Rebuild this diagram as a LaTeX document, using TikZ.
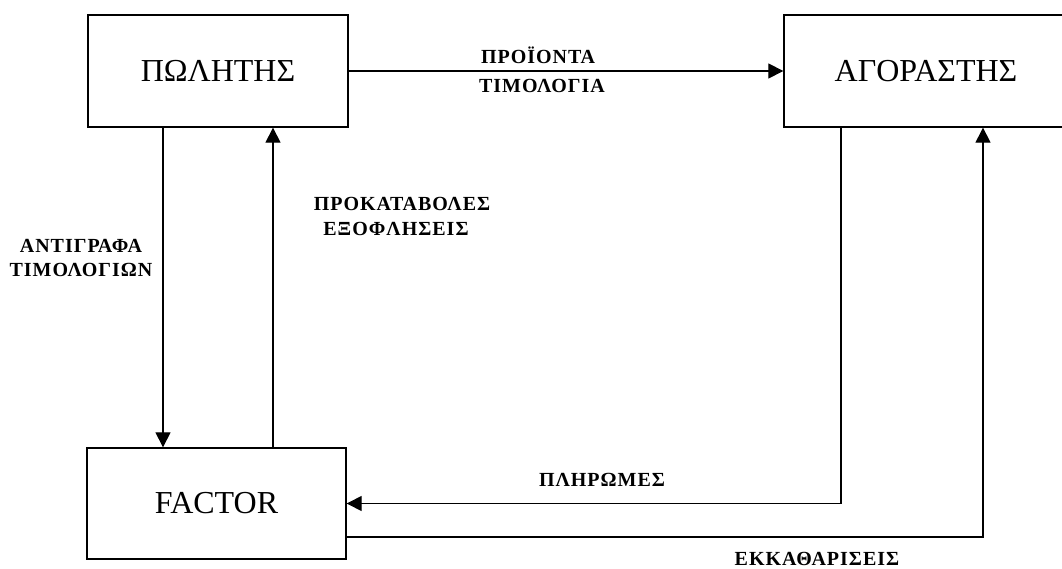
\documentclass[tikz,border=0pt]{standalone}
\usepackage{fontspec}
\setmainfont{Liberation Serif}
\newfontfamily\lblfont[LetterSpace=5]{Liberation Serif}
\usetikzlibrary{arrows.meta}
\tikzset{
  entity/.style={draw, line width=1.3pt, rectangle, inner sep=0pt, font=\fontsize{32}{36}\selectfont},
  flow/.style={line width=1.1pt, -{Triangle[length=15pt,width=15pt]}},
  lbl/.style={font=\lblfont\bfseries\fontsize{20}{26}\selectfont, align=center, inner sep=0pt}
}
\begin{document}
\begin{tikzpicture}[x=1pt,y=-1pt]
\useasboundingbox (0,0) rectangle (1062,569);
\node[entity, minimum width=260pt, minimum height=112pt] (seller) at (218,71) {ΠΩΛΗΤΗΣ};
\node[entity, minimum width=290pt, minimum height=112pt] (buyer) at (929,71) {};
\node at (926,71) [font=\fontsize{32}{36}\selectfont] (buyertxt) {ΑΓΟΡΑΣΤΗΣ};
\node[entity, minimum width=259pt, minimum height=111pt] (factor) at (216.5,503.5) {FACTOR};

\coordinate (c1) at (163,0);
\coordinate (c2) at (273,0);
\coordinate (c3) at (841,503.5);
\coordinate (c4) at (983,537);
\coordinate (c5) at (346,537);

\draw[flow] (seller.east) -- (buyer.west);
\draw[flow] (seller.south -| c1) -- (factor.north -| c1);
\draw[flow] (factor.north -| c2) -- (seller.south -| c2);
\draw[flow] (buyer.south -| c3) -- (c3) -- (factor.east);
\draw[flow] (c5) -- (c4) -- (buyer.south -| c4);

\node[lbl] (l1) at (538,55) {ΠΡΟΪΟΝΤΑ};
\node[lbl] (l2) at (542,86) {ΤΙΜΟΛΟΓΙΑ};
\node[lbl] (l3) at (81,246) {ΑΝΤΙΓΡΑΦΑ};
\node[lbl] (l4) at (81,270) {ΤΙΜΟΛΟΓΙΩΝ};
\node[lbl] (l5) at (402,204) {ΠΡΟΚΑΤΑΒΟΛΕΣ};
\node[lbl] (l6) at (396,229) {ΕΞΟΦΛΗΣΕΙΣ};
\node[lbl] (l7) at (602,480) {ΠΛΗΡΩΜΕΣ};
\node[lbl] (l8) at (817,559) {ΕΚΚΑΘΑΡΙΣΕΙΣ};
\end{tikzpicture}
\end{document}
